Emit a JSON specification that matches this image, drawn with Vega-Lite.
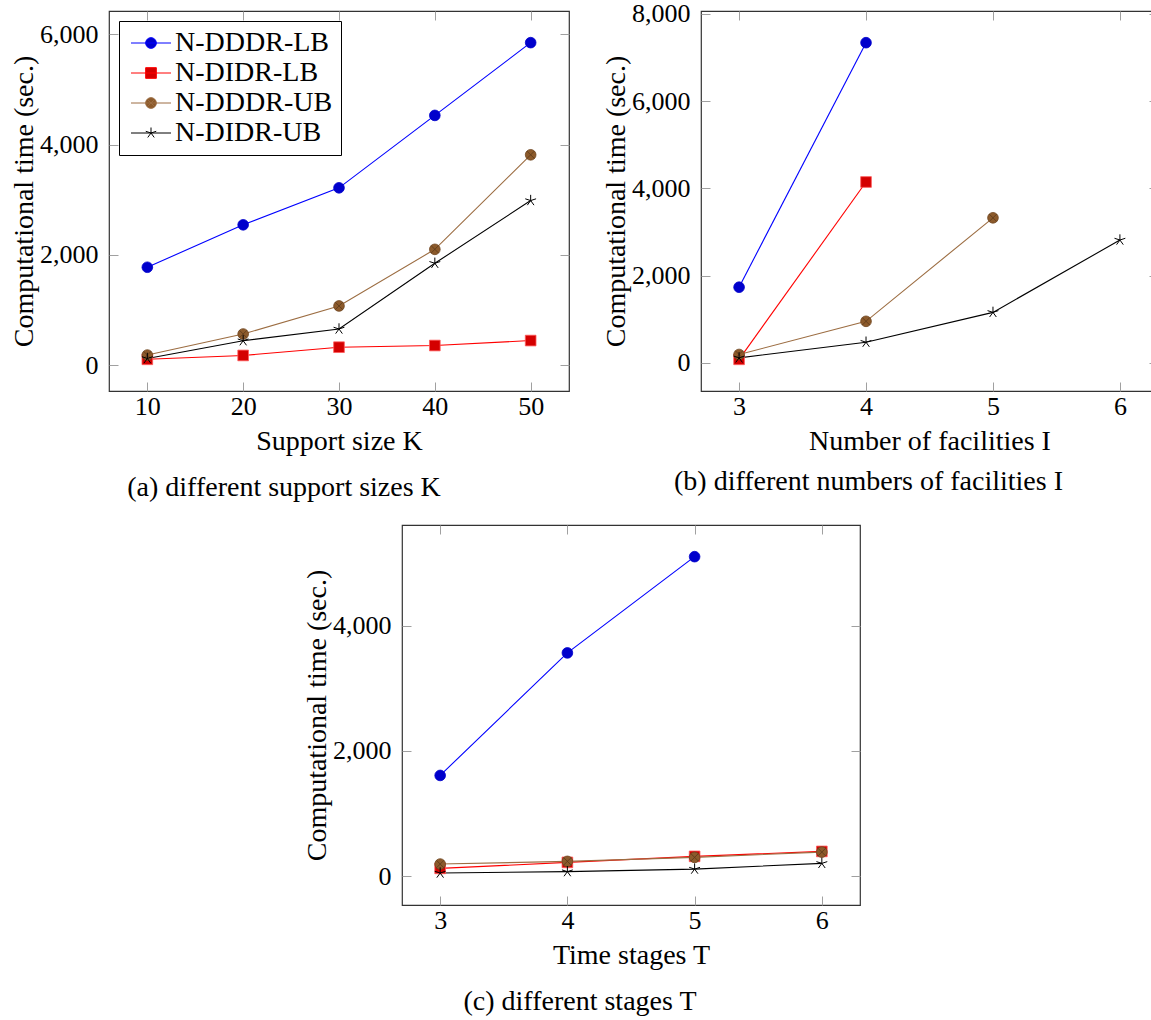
{
  "$schema": "https://vega.github.io/schema/vega-lite/v6.json",
  "padding": {"left": 9, "top": 0, "right": 0, "bottom": 0},
  "background": "white",
  "data": {"values": [
    {"panel": "a", "series": "N-DDDR-LB", "x": 10, "y": 1775},
    {"panel": "a", "series": "N-DDDR-LB", "x": 20, "y": 2545},
    {"panel": "a", "series": "N-DDDR-LB", "x": 30, "y": 3216},
    {"panel": "a", "series": "N-DDDR-LB", "x": 40, "y": 4530},
    {"panel": "a", "series": "N-DDDR-LB", "x": 50, "y": 5850},
    {"panel": "a", "series": "N-DIDR-LB", "x": 10, "y": 105},
    {"panel": "a", "series": "N-DIDR-LB", "x": 20, "y": 175},
    {"panel": "a", "series": "N-DIDR-LB", "x": 30, "y": 325},
    {"panel": "a", "series": "N-DIDR-LB", "x": 40, "y": 355},
    {"panel": "a", "series": "N-DIDR-LB", "x": 50, "y": 445},
    {"panel": "a", "series": "N-DDDR-UB", "x": 10, "y": 182},
    {"panel": "a", "series": "N-DDDR-UB", "x": 20, "y": 564},
    {"panel": "a", "series": "N-DDDR-UB", "x": 30, "y": 1073},
    {"panel": "a", "series": "N-DDDR-UB", "x": 40, "y": 2100},
    {"panel": "a", "series": "N-DDDR-UB", "x": 50, "y": 3815},
    {"panel": "a", "series": "N-DIDR-UB", "x": 10, "y": 120},
    {"panel": "a", "series": "N-DIDR-UB", "x": 20, "y": 442},
    {"panel": "a", "series": "N-DIDR-UB", "x": 30, "y": 655},
    {"panel": "a", "series": "N-DIDR-UB", "x": 40, "y": 1847},
    {"panel": "a", "series": "N-DIDR-UB", "x": 50, "y": 2985},
    {"panel": "b", "series": "N-DDDR-LB", "x": 3, "y": 1733},
    {"panel": "b", "series": "N-DDDR-LB", "x": 4, "y": 7337},
    {"panel": "b", "series": "N-DIDR-LB", "x": 3, "y": 80},
    {"panel": "b", "series": "N-DIDR-LB", "x": 4, "y": 4144},
    {"panel": "b", "series": "N-DDDR-UB", "x": 3, "y": 191},
    {"panel": "b", "series": "N-DDDR-UB", "x": 4, "y": 951},
    {"panel": "b", "series": "N-DDDR-UB", "x": 5, "y": 3323},
    {"panel": "b", "series": "N-DIDR-UB", "x": 3, "y": 114},
    {"panel": "b", "series": "N-DIDR-UB", "x": 4, "y": 472},
    {"panel": "b", "series": "N-DIDR-UB", "x": 5, "y": 1156},
    {"panel": "b", "series": "N-DIDR-UB", "x": 6, "y": 2814},
    {"panel": "c", "series": "N-DDDR-LB", "x": 3, "y": 1610},
    {"panel": "c", "series": "N-DDDR-LB", "x": 4, "y": 3565},
    {"panel": "c", "series": "N-DDDR-LB", "x": 5, "y": 5100},
    {"panel": "c", "series": "N-DIDR-LB", "x": 3, "y": 127},
    {"panel": "c", "series": "N-DIDR-LB", "x": 4, "y": 223},
    {"panel": "c", "series": "N-DIDR-LB", "x": 5, "y": 319},
    {"panel": "c", "series": "N-DIDR-LB", "x": 6, "y": 398},
    {"panel": "c", "series": "N-DDDR-UB", "x": 3, "y": 196},
    {"panel": "c", "series": "N-DDDR-UB", "x": 4, "y": 239},
    {"panel": "c", "series": "N-DDDR-UB", "x": 5, "y": 303},
    {"panel": "c", "series": "N-DDDR-UB", "x": 6, "y": 387},
    {"panel": "c", "series": "N-DIDR-UB", "x": 3, "y": 53},
    {"panel": "c", "series": "N-DIDR-UB", "x": 4, "y": 75},
    {"panel": "c", "series": "N-DIDR-UB", "x": 5, "y": 116},
    {"panel": "c", "series": "N-DIDR-UB", "x": 6, "y": 207}
  ]},
  "config": {
    "font": "Liberation Serif",
    "view": {"stroke": "#333333", "strokeWidth": 1.2},
    "axis": {"domain": false, "grid": false, "ticks": true, "tickSize": -9, "tickColor": "#a0a0a0", "tickWidth": 1,
      "labelFont": "Liberation Serif", "labelFontSize": 26, "labelColor": "black",
      "titleFont": "Liberation Serif", "titleFontSize": 28, "titleFontWeight": "normal", "titleColor": "black",
      "labelFlush": false, "labelOverlap": false, "labelBound": false},
    "axisX": {"labelPadding": 11, "titlePadding": 8},
    "axisY": {"labelPadding": 20, "titlePadding": 1},
    "title": {"font": "Liberation Serif", "fontSize": 28, "fontWeight": "normal", "color": "black", "orient": "bottom", "anchor": "middle", "offset": 19}
  },
  "spacing": 20,
  "resolve": {"scale": {"color": "independent", "fill": "independent", "stroke": "independent", "shape": "independent"}, "legend": {"color": "independent", "fill": "independent", "stroke": "independent", "shape": "independent"}},
  "vconcat": [
    {
      "spacing": 30,
      "resolve": {"scale": {"color": "independent", "fill": "independent", "stroke": "independent", "shape": "independent"}, "legend": {"color": "independent", "fill": "independent", "stroke": "independent", "shape": "independent"}},
      "hconcat": [
        {
          "width": 460, "height": 380,
          "transform": [{"filter": "datum.panel === 'a'"}],
          "title": {"text": "(a) different support sizes K", "dx": -55},
          "resolve": {"axis": {"x": "independent", "y": "independent"}},
          "layer": [
            {
              "encoding": {
                "x": {"field": "x", "type": "quantitative", "scale": {"domain": [6, 54], "nice": false, "zero": false}, "axis": {"values": [10, 20, 30, 40, 50], "title": "Support size K"}},
                "y": {"field": "y", "type": "quantitative", "scale": {"domain": [-470, 6424], "nice": false, "zero": false}, "axis": {"values": [0, 2000, 4000, 6000], "format": ",d", "title": "Computational time (sec.)"}}
              },
              "layer": [
                {"mark": {"type": "line", "strokeWidth": 1.1},
                 "encoding": {"color": {"field": "series", "type": "nominal",
                   "scale": {"domain": ["N-DDDR-LB", "N-DIDR-LB", "N-DDDR-UB", "N-DIDR-UB"], "range": ["#0000ff", "#ff0000", "#9c6d42", "#000000"]},
                   "legend": {"title": null, "orient": "top-left", "offset": 10, "padding": 8, "strokeColor": "black", "fillColor": "white",
                     "symbolSize": 400, "labelOffset": 20, "labelFontSize": 28, "labelFont": "Liberation Serif", "labelColor": "black", "rowPadding": 2, "symbolStrokeWidth": 1,
                     "encode": {"symbols": {"update": {
                       "shape": {"signal": "datum.value === 'N-DDDR-LB' ? 'M-1,0L3,0M1.535,0A0.535,0.535,0,1,1,0.465,0A0.535,0.535,0,1,1,1.535,0Z' : datum.value === 'N-DIDR-LB' ? 'M-1,0L3,0M0.465,-0.535L1.535,-0.535L1.535,0.535L0.465,0.535Z' : datum.value === 'N-DDDR-UB' ? 'M-1,0L3,0M1.535,0A0.535,0.535,0,1,1,0.465,0A0.535,0.535,0,1,1,1.535,0ZM0.62,-0.38L1.38,0.38M0.62,0.38L1.38,-0.38' : 'M-1,0L3,0M1,0L1,-0.55M1,0L1.523,-0.17M1,0L1.323,0.445M1,0L0.677,0.445M1,0L0.477,-0.17'"},
                       "fill": {"signal": "datum.value === 'N-DDDR-LB' ? '#0000cc' : datum.value === 'N-DIDR-LB' ? '#d40000' : datum.value === 'N-DDDR-UB' ? '#8c5a2b' : 'transparent'"},
                       "stroke": {"signal": "datum.value === 'N-DDDR-LB' ? '#0000ff' : datum.value === 'N-DIDR-LB' ? '#ff0000' : datum.value === 'N-DDDR-UB' ? '#8c6440' : '#000000'"},
                       "strokeWidth": {"value": 1},
                       "opacity": {"value": 1}
                     }}}}}}},
                {"transform": [{"filter": "datum.series !== 'N-DIDR-UB'"}],
                 "mark": {"type": "point", "filled": true, "size": 114, "strokeWidth": 0.8, "opacity": 1},
                 "encoding": {
                   "shape": {"field": "series", "type": "nominal", "scale": {"domain": ["N-DDDR-LB", "N-DIDR-LB", "N-DDDR-UB"], "range": ["circle", "square", "circle"]}, "legend": null},
                   "fill": {"field": "series", "type": "nominal", "scale": {"domain": ["N-DDDR-LB", "N-DIDR-LB", "N-DDDR-UB"], "range": ["#0000cc", "#d40000", "#8c5a2b"]}, "legend": null},
                   "stroke": {"field": "series", "type": "nominal", "scale": {"domain": ["N-DDDR-LB", "N-DIDR-LB", "N-DDDR-UB"], "range": ["#0000cc", "#ff5a5a", "#6e4520"]}, "legend": null}}},
                {"transform": [{"filter": "datum.series === 'N-DDDR-UB'"}],
                 "mark": {"type": "point", "shape": "M-0.7,-0.7L0.7,0.7M-0.7,0.7L0.7,-0.7", "filled": false, "size": 114, "stroke": "#5a3a1a", "strokeWidth": 0.8, "opacity": 1}},
                {"transform": [{"filter": "datum.series === 'N-DIDR-UB'"}],
                 "mark": {"type": "point", "shape": "M0,0L0,-1M0,0L0.951,-0.309M0,0L0.588,0.809M0,0L-0.588,0.809M0,0L-0.951,-0.309", "filled": false, "size": 130, "stroke": "#000000", "strokeWidth": 1, "opacity": 1}}
              ]
            },
            {
              "mark": {"type": "point", "opacity": 0},
              "encoding": {
                "x": {"field": "x", "type": "quantitative", "scale": {"domain": [6, 54], "nice": false, "zero": false}, "axis": {"orient": "top", "values": [10, 20, 30, 40, 50], "labels": false, "title": null}},
                "y": {"field": "y", "type": "quantitative", "scale": {"domain": [-470, 6424], "nice": false, "zero": false}, "axis": {"orient": "right", "values": [0, 2000, 4000, 6000], "labels": false, "title": null}}
              }
            }
          ]
        },
        {
          "width": 457, "height": 380,
          "transform": [{"filter": "datum.panel === 'b'"}],
          "title": {"text": "(b) different numbers of facilities I", "dx": -61, "offset": 13},
          "resolve": {"axis": {"x": "independent", "y": "independent"}},
          "layer": [
            {
              "encoding": {
                "x": {"field": "x", "type": "quantitative", "scale": {"domain": [2.7, 6.3], "nice": false, "zero": false}, "axis": {"values": [3, 4, 5, 6], "title": "Number of facilities I"}},
                "y": {"field": "y", "type": "quantitative", "scale": {"domain": [-646, 8063], "nice": false, "zero": false}, "axis": {"values": [0, 2000, 4000, 6000, 8000], "format": ",d", "title": "Computational time (sec.)"}}
              },
              "layer": [
                {"mark": {"type": "line", "strokeWidth": 1.1},
                 "encoding": {"color": {"field": "series", "type": "nominal",
                   "scale": {"domain": ["N-DDDR-LB", "N-DIDR-LB", "N-DDDR-UB", "N-DIDR-UB"], "range": ["#0000ff", "#ff0000", "#9c6d42", "#000000"]}, "legend": null}}},
                {"transform": [{"filter": "datum.series !== 'N-DIDR-UB'"}],
                 "mark": {"type": "point", "filled": true, "size": 114, "strokeWidth": 0.8, "opacity": 1},
                 "encoding": {
                   "shape": {"field": "series", "type": "nominal", "scale": {"domain": ["N-DDDR-LB", "N-DIDR-LB", "N-DDDR-UB"], "range": ["circle", "square", "circle"]}, "legend": null},
                   "fill": {"field": "series", "type": "nominal", "scale": {"domain": ["N-DDDR-LB", "N-DIDR-LB", "N-DDDR-UB"], "range": ["#0000cc", "#d40000", "#8c5a2b"]}, "legend": null},
                   "stroke": {"field": "series", "type": "nominal", "scale": {"domain": ["N-DDDR-LB", "N-DIDR-LB", "N-DDDR-UB"], "range": ["#0000cc", "#ff5a5a", "#6e4520"]}, "legend": null}}},
                {"transform": [{"filter": "datum.series === 'N-DDDR-UB'"}],
                 "mark": {"type": "point", "shape": "M-0.7,-0.7L0.7,0.7M-0.7,0.7L0.7,-0.7", "filled": false, "size": 114, "stroke": "#5a3a1a", "strokeWidth": 0.8, "opacity": 1}},
                {"transform": [{"filter": "datum.series === 'N-DIDR-UB'"}],
                 "mark": {"type": "point", "shape": "M0,0L0,-1M0,0L0.951,-0.309M0,0L0.588,0.809M0,0L-0.588,0.809M0,0L-0.951,-0.309", "filled": false, "size": 130, "stroke": "#000000", "strokeWidth": 1, "opacity": 1}}
              ]
            },
            {
              "mark": {"type": "point", "opacity": 0},
              "encoding": {
                "x": {"field": "x", "type": "quantitative", "scale": {"domain": [2.7, 6.3], "nice": false, "zero": false}, "axis": {"orient": "top", "values": [3, 4, 5, 6], "labels": false, "title": null}},
                "y": {"field": "y", "type": "quantitative", "scale": {"domain": [-646, 8063], "nice": false, "zero": false}, "axis": {"orient": "right", "values": [0, 2000, 4000, 6000, 8000], "labels": false, "title": null}}
              }
            }
          ]
        }
      ]
    },
    {
      "spacing": 10,
      "resolve": {"scale": {"color": "independent", "fill": "independent", "stroke": "independent", "shape": "independent"}, "legend": {"color": "independent", "fill": "independent", "stroke": "independent", "shape": "independent"}},
      "hconcat": [
        {"width": 183, "height": 10, "view": {"stroke": null}, "mark": {"type": "point", "opacity": 0}},
        {
          "width": 458, "height": 380,
          "transform": [{"filter": "datum.panel === 'c'"}],
          "title": {"text": "(c) different stages T", "dx": -51},
          "resolve": {"axis": {"x": "independent", "y": "independent"}},
          "layer": [
            {
              "encoding": {
                "x": {"field": "x", "type": "quantitative", "scale": {"domain": [2.7, 6.3], "nice": false, "zero": false}, "axis": {"values": [3, 4, 5, 6], "title": "Time stages T"}},
                "y": {"field": "y", "type": "quantitative", "scale": {"domain": [-457, 5605], "nice": false, "zero": false}, "axis": {"values": [0, 2000, 4000], "format": ",d", "title": "Computational time (sec.)"}}
              },
              "layer": [
                {"mark": {"type": "line", "strokeWidth": 1.1},
                 "encoding": {"color": {"field": "series", "type": "nominal",
                   "scale": {"domain": ["N-DDDR-LB", "N-DIDR-LB", "N-DDDR-UB", "N-DIDR-UB"], "range": ["#0000ff", "#ff0000", "#9c6d42", "#000000"]}, "legend": null}}},
                {"transform": [{"filter": "datum.series !== 'N-DIDR-UB'"}],
                 "mark": {"type": "point", "filled": true, "size": 114, "strokeWidth": 0.8, "opacity": 1},
                 "encoding": {
                   "shape": {"field": "series", "type": "nominal", "scale": {"domain": ["N-DDDR-LB", "N-DIDR-LB", "N-DDDR-UB"], "range": ["circle", "square", "circle"]}, "legend": null},
                   "fill": {"field": "series", "type": "nominal", "scale": {"domain": ["N-DDDR-LB", "N-DIDR-LB", "N-DDDR-UB"], "range": ["#0000cc", "#d40000", "#8c5a2b"]}, "legend": null},
                   "stroke": {"field": "series", "type": "nominal", "scale": {"domain": ["N-DDDR-LB", "N-DIDR-LB", "N-DDDR-UB"], "range": ["#0000cc", "#ff5a5a", "#6e4520"]}, "legend": null}}},
                {"transform": [{"filter": "datum.series === 'N-DDDR-UB'"}],
                 "mark": {"type": "point", "shape": "M-0.7,-0.7L0.7,0.7M-0.7,0.7L0.7,-0.7", "filled": false, "size": 114, "stroke": "#5a3a1a", "strokeWidth": 0.8, "opacity": 1}},
                {"transform": [{"filter": "datum.series === 'N-DIDR-UB'"}],
                 "mark": {"type": "point", "shape": "M0,0L0,-1M0,0L0.951,-0.309M0,0L0.588,0.809M0,0L-0.588,0.809M0,0L-0.951,-0.309", "filled": false, "size": 130, "stroke": "#000000", "strokeWidth": 1, "opacity": 1}}
              ]
            },
            {
              "mark": {"type": "point", "opacity": 0},
              "encoding": {
                "x": {"field": "x", "type": "quantitative", "scale": {"domain": [2.7, 6.3], "nice": false, "zero": false}, "axis": {"orient": "top", "values": [3, 4, 5, 6], "labels": false, "title": null}},
                "y": {"field": "y", "type": "quantitative", "scale": {"domain": [-457, 5605], "nice": false, "zero": false}, "axis": {"orient": "right", "values": [0, 2000, 4000], "labels": false, "title": null}}
              }
            }
          ]
        }
      ]
    }
  ]
}
